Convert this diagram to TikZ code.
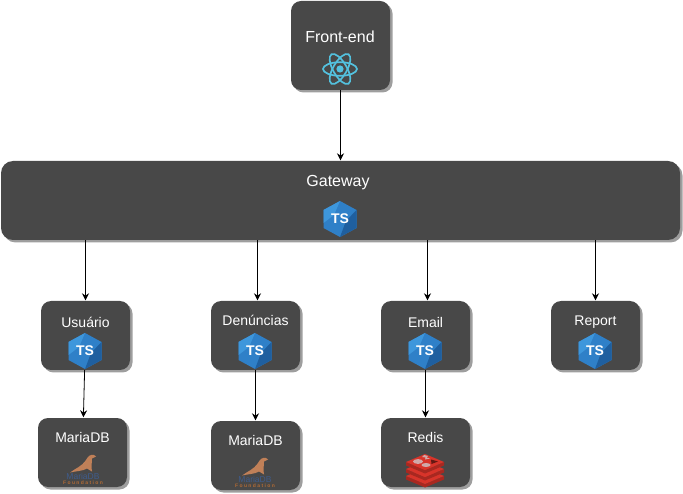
\documentclass[tikz,border=0pt]{standalone}
\usepackage{fontspec}
\setmainfont{Liberation Sans}
\usetikzlibrary{arrows.meta,shadows}
\definecolor{boxgray}{HTML}{484848}
\definecolor{reactblue}{HTML}{53C1DE}
\definecolor{tsblue}{HTML}{2F80C8}
\definecolor{tsdark}{HTML}{1F5F9F}
\definecolor{tslight}{HTML}{3E97DC}
\definecolor{sealbrown}{HTML}{C08058}
\definecolor{mariablue}{HTML}{3F5C8C}
\definecolor{mariaorange}{HTML}{B06A35}
\definecolor{redislight}{HTML}{D8342A}
\definecolor{redisdark}{HTML}{A82820}
\definecolor{redismark}{HTML}{D0A8A8}
\tikzset{
  box/.style={draw=none,fill=boxgray,rounded corners=#1,inner sep=0pt,
    drop shadow={shadow xshift=2.5pt,shadow yshift=-2.5pt,fill=black!38,opacity=1}},
  box/.default=10pt,
  lbl/.style={text=white,inner sep=0pt,anchor=base,font=\fontsize{14}{16}\selectfont},
  biglbl/.style={lbl,font=\fontsize{16}{18}\selectfont},
  conn/.style={-{Stealth[length=7pt,width=7pt]},line width=.8pt,shorten >=.5pt},
  pics/tsicon/.style={code={
    \fill[tsblue] (0,-18)--(16.5,-9)--(16.5,9)--(0,18)--(-16.5,9)--(-16.5,-9)--cycle;
    \fill[tsdark] (16.5,-9)--(16.5,9)--(0,18)--(6,2)--cycle;
    \fill[tslight] (0,-18)--(-16.5,-9)--(-16.5,4)--(-6,-4)--cycle;
    \node[text=white,inner sep=0pt,font=\fontsize{14}{16}\selectfont\bfseries] (-tstxt) at (0,0) {TS};
  }},
  pics/reacticon/.style={code={
    \fill[reactblue] (0,0) circle[radius=3.6];
    \foreach \ang in {0,60,120}{
      \draw[reactblue,line width=1.7pt,rotate=\ang] (0,0) ellipse[x radius=17,y radius=6.8];
    }
  }},
  pics/sealicon/.style={code={
    \fill[sealbrown] (-13,7.5) .. controls (-7,3) and (-2,2) .. (3,-5) .. controls (5,-9) and (8,-11) .. (11,-10)
      -- (13,-8.5) -- (9,-6.5) .. controls (9,-2) and (8,1) .. (9,6.5) -- (4,3.5) .. controls (0,6) and (-6,6) .. (-13,7.5) -- cycle;
    \node[text=mariablue,inner sep=0pt,font=\fontsize{8.5}{9}\selectfont] (-mtxt) at (0,11.5) {MariaDB};
    \node[text=mariaorange,inner sep=0pt,font=\fontsize{5}{5}\selectfont\bfseries] (-ftxt) at (0,17.5) {F o u n d a t i o n};
  }},
  pics/redisicon/.style={code={
    \foreach \yy in {6,-1,-8}{
      \fill[redisdark] (-19,\yy)--(0,\yy+8)--(19,\yy)--(19,\yy+3.5)--(0,\yy+11.5)--(-19,\yy+3.5)--cycle;
      \fill[redislight] (-19,\yy)--(0,\yy-8)--(19,\yy)--(0,\yy+8)--cycle;
    }
    \fill[redismark] (-7,-8.5) ellipse[x radius=5,y radius=2.4];
    \fill[redismark] (-1,-15)--(3,-14)--(1.5,-12.5)--(5,-11.5)--(0,-10.5)--(0.5,-12.5)--(-3,-13)--cycle;
    \fill[redismark] (1,-5) ellipse[x radius=4.5,y radius=2];
    \fill[redisdark!60!black] (6,-10.5)--(13,-8.5)--(6.5,-6)--cycle;
  }}
}
\begin{document}
\begin{tikzpicture}[x=1pt,y=-1pt]
  \useasboundingbox (0,0) rectangle (683,494);

  \node[box,minimum width=99pt,minimum height=89pt] (frontend) at (340.5,45.5) {};
  \node[box=12pt,minimum width=679pt,minimum height=79pt] (gateway) at (340.5,200.5) {};
  \node[biglbl] (frontendtxt) at (340,43) {Front-end};
  \node[biglbl] (gatewaytxt) at (338,187) {Gateway};
  \pic (react) at (340,69) {reacticon};
  \pic (gatewayts) at (340,219) {tsicon};

  % services
  \foreach \name/\lab/\xc/\yt in {usuario/{Usuário}/85.5/328,denuncias/{Denúncias}/255.5/326,email/{Email}/425.5/328,report/{Report}/595.5/326}{
    \node[box,minimum width=89pt,minimum height=69pt] (\name) at (\xc,335.5) {};
    \node[lbl] (\name txt) at (\xc,\yt) {\lab};
    \pic (\name ts) at (\xc-.5,351) {tsicon};
  }

  % bases
  \foreach \name/\lab/\xc/\yc in {mariaum/MariaDB/82.5/452.5,mariadois/MariaDB/255.5/455.5,redis/Redis/425.5/452.5}{
    \node[box,minimum width=89pt,minimum height=69pt] (\name) at (\xc,\yc) {};
    \node[lbl] (\name txt) at (\xc,\yc-10) {\lab};
  }
  \pic (sealum) at (83,465) {sealicon};
  \pic (sealdois) at (255,468) {sealicon};
  \pic (redisico) at (425,470) {redisicon};

  \draw[conn] (frontend) -- (gateway);
  \draw[conn] (usuario.north |- gateway.south) -- (usuario.north);
  \draw[conn] ([xshift=2pt]denuncias.north |- gateway.south) -- ([xshift=2pt]denuncias.north);
  \draw[conn] ([xshift=2pt]email.north |- gateway.south) -- ([xshift=2pt]email.north);
  \draw[conn] (report.north |- gateway.south) -- (report.north);
  \draw[conn] (usuario) -- (mariaum);
  \draw[conn] (denuncias) -- (mariadois);
  \draw[conn] (email) -- (redis);
\end{tikzpicture}
\end{document}
